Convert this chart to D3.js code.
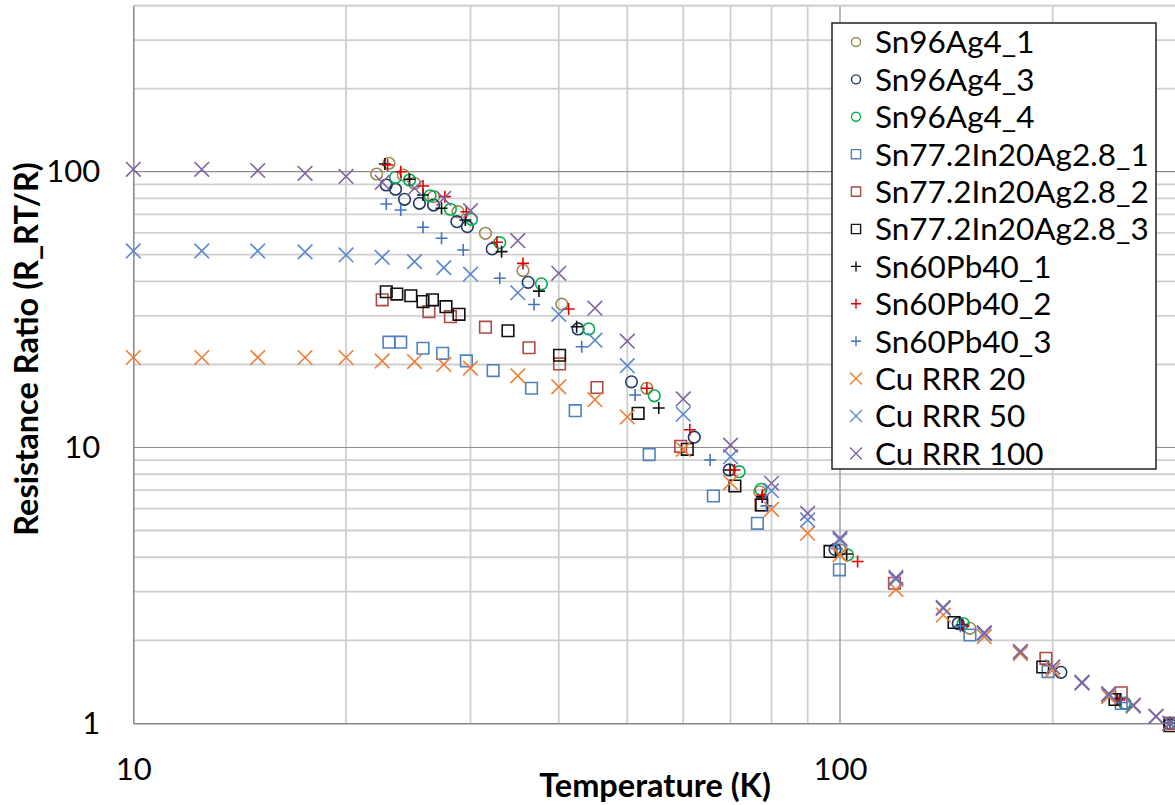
<!DOCTYPE html>
<html>
<head>
<meta charset="utf-8">
<script src="https://cdn.jsdelivr.net/npm/d3@7"></script>
<style>
  body { margin: 0; background: #fff; }
  svg { display: block; font-family: Lato, "Open Sans", sans-serif; }
</style>
</head>
<body>
<div id="chart"></div>
<script>
// series names, in legend order
const names = [
  "Sn96Ag4_1", "Sn96Ag4_3", "Sn96Ag4_4",
  "Sn77.2In20Ag2.8_1", "Sn77.2In20Ag2.8_2", "Sn77.2In20Ag2.8_3",
  "Sn60Pb40_1", "Sn60Pb40_2", "Sn60Pb40_3",
  "Cu RRR 20", "Cu RRR 50", "Cu RRR 100"
];
const colors = ["#9b8a55", "#203864", "#00b050", "#4f81bd", "#ad4a47", "#111111",
                "#111111", "#e00000", "#4472c4", "#ed7d31", "#5b87cf", "#8064a2"];
const symbols = ["circle", "circle", "circle", "square", "square", "square",
                 "plus", "plus", "plus", "cross", "cross", "cross"];

// [temperature K, resistance ratio]
const sn96_1 = [[22.1, 98.1], [23.0, 107.3], [24.1, 97.3], [25.0, 90.8], [26.6, 81.2], [28.8, 71.6],
  [31.5, 59.8], [35.6, 43.8], [40.4, 33.1], [53.3, 16.4], [77.0, 6.91], [100, 4.25],
  [152.7, 2.21], [253, 1.18], [293, 1.0]];
const sn96_3 = [[22.8, 89.5], [23.5, 86.4], [24.2, 79.4], [25.4, 76.8], [26.6, 75.7], [28.7, 65.9],
  [29.7, 63.2], [32.2, 52.5], [36.2, 39.7], [42.6, 26.9], [50.7, 17.3], [62.2, 10.9],
  [69.7, 8.29], [98.4, 4.27], [147, 2.3], [205.4, 1.53], [253, 1.18], [293, 1.0]];
const sn96_4 = [[23.5, 95.4], [24.6, 93.3], [26.3, 81.8], [28.1, 73.1], [30.1, 67.2], [33.0, 55.3],
  [37.8, 39.2], [44.1, 26.9], [54.6, 15.4], [72.0, 8.17], [77.3, 7.05], [102.5, 4.08],
  [149.4, 2.30], [253, 1.18], [293, 1.0]];
const snin_1 = [[23.0, 24.1], [23.9, 24.1], [25.7, 22.9], [27.4, 21.96], [29.6, 20.6], [32.3, 19.0],
  [36.6, 16.4], [42.2, 13.6], [53.7, 9.43], [66.2, 6.67], [76.4, 5.31], [99.8, 3.60],
  [152.7, 2.09], [197, 1.54], [250, 1.18], [293, 1.0]];
const snin_2 = [[22.5, 34.3], [26.2, 31.1], [28.1, 29.8], [31.5, 27.3], [36.3, 23.0], [40.1, 20.1],
  [45.3, 16.5], [59.5, 10.1], [77.3, 6.19], [119.4, 3.22], [195.6, 1.72], [250, 1.29], [293, 1.0]];
const snin_3 = [[22.8, 36.7], [23.6, 36.0], [24.7, 35.5], [25.7, 33.8], [26.5, 34.3], [27.7, 32.4],
  [28.9, 30.4], [33.9, 26.5], [40.1, 21.6], [51.8, 13.3], [60.8, 9.85], [71.0, 7.25],
  [77.5, 6.19], [96.8, 4.20], [145, 2.32], [193.6, 1.60], [245, 1.22], [293, 0.98]];
const snpb_1 = [[22.7, 106.7], [24.6, 93.9], [25.7, 82.3], [27.3, 73.7], [29.5, 66.8], [33.2, 51.3],
  [37.5, 36.9], [42.4, 27.4], [55.4, 13.9], [69.9, 8.29], [77.6, 6.62], [102.2, 4.11],
  [148.8, 2.27], [246.6, 1.225], [293, 1.0]];
const snpb_2 = [[22.9, 105.8], [23.9, 100], [25.7, 88.8], [27.6, 81.2], [29.6, 71.6], [32.7, 55.5],
  [35.6, 46.5], [41.3, 31.8], [53.3, 16.4], [61.3, 11.6], [70.9, 8.29], [77.7, 6.73],
  [105.9, 3.86], [149.4, 2.25], [248.5, 1.215], [293, 1.0]];
const snpb_3 = [[22.8, 76.4], [23.9, 72.6], [25.7, 62.9], [27.3, 57.4], [29.3, 52.0], [33.0, 41.1],
  [36.9, 33.0], [43.1, 23.2], [51.3, 15.5], [65.5, 9.01], [78.7, 6.14], [99, 4.3],
  [148, 2.25], [250, 1.19], [293, 1.0]];

const cuTemps = [10, 12.5, 15, 17.5, 20, 22.5, 25, 27.5, 30, 35, 40, 45, 50, 60, 70, 80, 90,
  100, 120, 140, 160, 180, 200, 220, 240, 260, 280, 293];
const cu20 = [21.2, 21.2, 21.2, 21.2, 21.2, 20.6, 20.5, 20.0, 19.4, 18.2, 16.6, 14.9, 12.9, 9.85,
  7.46, 5.97, 4.89, 4.08, 3.06, 2.47, 2.06, 1.79, 1.56, 1.40, 1.25, 1.155, 1.057, 1.0];
const cu50 = [51.6, 51.6, 51.6, 51.2, 49.9, 48.9, 47.2, 44.9, 42.5, 36.4, 30.4, 24.5, 19.8, 13.2,
  9.26, 6.97, 5.46, 4.62, 3.33, 2.61, 2.11, 1.82, 1.60, 1.40, 1.27, 1.16, 1.06, 1.0];
const cu100 = [102.0, 102.0, 101.0, 98.7, 96.1, 91.5, 87.1, 80.1, 72.2, 56.2, 42.8, 32.0, 24.3, 15.0,
  10.2, 7.42, 5.77, 4.69, 3.38, 2.63, 2.13, 1.82, 1.60, 1.41, 1.28, 1.165, 1.06, 1.0];

const xLabels = [10, 100];
const yLabels = [1, 10, 100];

const seriesData = [sn96_1, sn96_3, sn96_4, snin_1, snin_2, snin_3, snpb_1, snpb_2, snpb_3,
  cuTemps.map((t, i) => [t, cu20[i]]),
  cuTemps.map((t, i) => [t, cu50[i]]),
  cuTemps.map((t, i) => [t, cu100[i]])];

const W = 1175, H = 805;
const svg = d3.select("#chart").append("svg").attr("width", W).attr("height", H);

const x = d3.scaleLog().domain([10, 300]).range([133.3, 133.3 + 706.7 * Math.log10(30)]);
const y = d3.scaleLog().domain([1, 400]).range([723.3, 723.3 - 275.8 * Math.log10(400)]);
const [x0, x1] = x.range(), [y0, y1] = y.range();

// grid
const isMajor = v => Math.abs(Math.log10(v) - Math.round(Math.log10(v))) < 1e-9;
const grid = svg.append("g");
grid.selectAll(".vg").data(x.ticks().filter(v => !isMajor(v))).join("line")
  .attr("x1", d => x(d)).attr("x2", d => x(d)).attr("y1", y0).attr("y2", y1)
  .attr("stroke", "#cfcfcf").attr("stroke-width", 1.8);
grid.selectAll(".hg").data(y.ticks().filter(v => !isMajor(v))).join("line")
  .attr("x1", x0).attr("x2", x1).attr("y1", d => y(d)).attr("y2", d => y(d))
  .attr("stroke", "#cfcfcf").attr("stroke-width", 1.8);
grid.selectAll(".vm").data(x.ticks().filter(v => isMajor(v) && v > 10)).join("line")
  .attr("x1", d => x(d)).attr("x2", d => x(d)).attr("y1", y0).attr("y2", y1)
  .attr("stroke", "#8c8c8c").attr("stroke-width", 1.2);
grid.selectAll(".hm").data(y.ticks().filter(v => isMajor(v) && v > 1)).join("line")
  .attr("x1", x0).attr("x2", x1).attr("y1", d => y(d)).attr("y2", d => y(d))
  .attr("stroke", "#8c8c8c").attr("stroke-width", 1.2);
// top border
svg.append("line").attr("x1", x0).attr("x2", x1).attr("y1", y1).attr("y2", y1)
  .attr("stroke", "#cfcfcf").attr("stroke-width", 1.8);

// axes
const xAxis = svg.append("g").attr("transform", `translate(0,${y0})`)
  .call(d3.axisBottom(x).tickValues(xLabels).tickFormat(d3.format("d")).tickSize(0).tickPadding(35));
const yAxis = svg.append("g").attr("transform", `translate(${x0},0)`)
  .call(d3.axisLeft(y).tickValues(yLabels).tickFormat(d3.format("d")).tickSize(0).tickPadding(33));
[xAxis, yAxis].forEach(g => {
  g.select(".domain").attr("stroke", "#868686").attr("stroke-width", 1.5);
  g.selectAll("text").attr("font-family", "Lato, sans-serif").attr("font-size", 31).attr("fill", "#000");
});

// axis titles
svg.append("text").attr("x", 655).attr("y", 797).attr("text-anchor", "middle")
  .attr("font-size", 32.5).attr("font-weight", "bold").text("Temperature (K)");
svg.append("text").attr("transform", "translate(38,349) rotate(-90)").attr("text-anchor", "middle")
  .attr("font-size", 32.5).attr("font-weight", "bold").text("Resistance Ratio (R_RT/R)");

// marker shapes
function marker(type, s) {
  switch (type) {
    case "circle": return `M${s},0A${s},${s} 0 1,1 ${-s},0A${s},${s} 0 1,1 ${s},0Z`;
    case "square": return `M${-s},${-s}H${s}V${s}H${-s}Z`;
    case "plus": return `M${-s},0H${s}M0,${-s}V${s}`;
    case "cross": return `M${-s},${-s}L${s},${s}M${-s},${s}L${s},${-s}`;
  }
}
const plotSize = { circle: 5.8, square: 5.8, plus: 6, cross: 7.3 };
const legSize = { circle: 4.5, square: 4.6, plus: 5, cross: 6 };

const plot = svg.append("g");
seriesData.forEach((data, i) => {
  plot.append("g").selectAll("path").data(data).join("path")
    .attr("transform", d => `translate(${x(d[0])},${y(d[1])})`)
    .attr("d", marker(symbols[i], plotSize[symbols[i]]))
    .attr("fill", "none").attr("stroke", colors[i]).attr("stroke-width", 1.6);
});

// legend
const lg = svg.append("g").attr("transform", "translate(832,23)");
lg.append("rect").attr("width", 324).attr("height", 446)
  .attr("fill", "#fff").attr("stroke", "#222").attr("stroke-width", 1.5);
const rows = lg.selectAll(".row").data(names).join("g")
  .attr("transform", (d, i) => `translate(0,${19 + i * 37.4})`);
rows.append("path")
  .attr("transform", "translate(24,0)")
  .attr("d", (d, i) => marker(symbols[i], legSize[symbols[i]]))
  .attr("fill", "none").attr("stroke", (d, i) => colors[i]).attr("stroke-width", 1.4);
rows.append("text").attr("x", 43).attr("dy", "0.36em")
  .attr("font-size", 31.5).attr("fill", "#000").text(d => d);
</script>
</body>
</html>
